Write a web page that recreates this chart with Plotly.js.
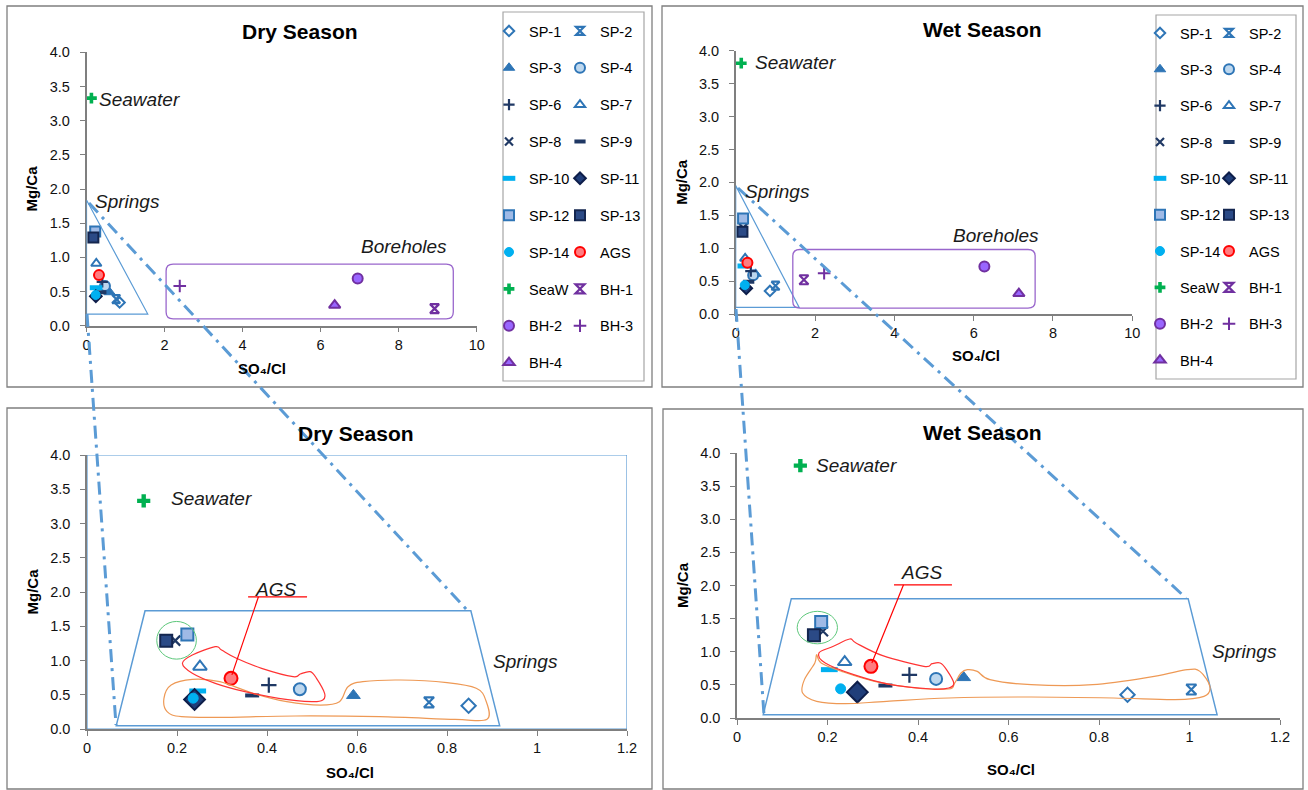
<!DOCTYPE html>
<html><head><meta charset="utf-8">
<script src="https://cdn.plot.ly/plotly-3.0.1.min.js"></script>
<style>html,body{margin:0;padding:0;background:#fff}</style>
</head><body><div id="chart" style="width:1308px;height:790px"></div>
<script>
// ---------------- DATA ----------------
const seriesNames = ['SP-1','SP-2','SP-3','SP-4','SP-6','SP-7','SP-8','SP-9','SP-10','SP-11','SP-12','SP-13','SP-14','AGS','SeaW','BH-1','BH-2','BH-3','BH-4'];
const drySO4Cl = [0.848,0.760,0.592,0.473,0.404,0.251,0.196,0.367,0.246,0.239,0.223,0.176,0.236,0.320,0.126,8.92,6.95,2.39,6.36];
const dryMgCa  = [0.34,0.39,0.49,0.58,0.64,0.91,1.29,0.49,0.555,0.43,1.38,1.29,0.45,0.74,3.33,0.25,0.69,0.58,0.30];
const wetSO4Cl = [0.863,1.004,0.501,0.440,0.381,0.238,0.190,0.328,0.204,0.266,0.186,0.170,0.229,0.296,0.140,1.72,6.27,2.23,7.14];
const wetMgCa  = [0.35,0.43,0.61,0.59,0.65,0.845,1.31,0.49,0.73,0.39,1.45,1.25,0.44,0.78,3.81,0.52,0.72,0.62,0.31];
const legendCol1 = ['SP-1','SP-3','SP-6','SP-8','SP-10','SP-12','SP-14','SeaW','BH-2','BH-4'];
const legendCol2 = ['SP-2','SP-4','SP-7','SP-9','SP-11','SP-13','AGS','BH-1','BH-3'];
const panelTitles = ['Dry Season','Wet Season','Dry Season','Wet Season'];
const xTitle = 'SO\u2084/Cl', yTitle = 'Mg/Ca';

// group outlines (data units of the zoomed panels)
const dryAgsX = [0.212,0.234,0.285,0.299,0.332,0.388,0.458,0.474,0.496,0.510,0.528,0.524,0.500,0.426,0.351,0.285,0.234];
const dryAgsY = [0.959,1.080,1.202,1.153,1.032,0.886,0.764,0.803,0.837,0.740,0.521,0.423,0.399,0.448,0.545,0.667,0.813];
const dryLowX = [0.171,0.187,0.234,0.295,0.369,0.444,0.519,0.561,0.580,0.613,0.697,0.800,0.865,0.886,0.889,0.818,0.650,0.463,0.295,0.210,0.178];
const dryLowY = [0.448,0.642,0.725,0.691,0.521,0.399,0.350,0.399,0.618,0.691,0.715,0.676,0.594,0.423,0.141,0.141,0.180,0.190,0.170,0.180,0.253];
const wetAgsX = [0.181,0.213,0.249,0.263,0.322,0.413,0.431,0.449,0.463,0.479,0.468,0.431,0.340,0.258,0.195];
const wetAgsY = [0.981,1.082,1.192,1.132,0.941,0.780,0.820,0.830,0.730,0.528,0.453,0.438,0.503,0.654,0.830];
const wetLowX = [0.176,0.186,0.231,0.304,0.395,0.468,0.481,0.495,0.509,0.531,0.559,0.650,0.786,0.922,0.995,1.023,1.045,1.032,0.968,0.832,0.650,0.468,0.331,0.240,0.176,0.145,0.149,0.172];
const wetLowY = [0.956,0.830,0.704,0.553,0.453,0.438,0.528,0.679,0.730,0.704,0.579,0.503,0.503,0.629,0.730,0.704,0.478,0.327,0.277,0.302,0.317,0.302,0.252,0.216,0.252,0.377,0.579,0.830];

// ---------------- STYLE ----------------
const W = 1308, H = 790;
const FONT = 'Liberation Sans, Arial, sans-serif';
const BLUE = '#2E75B6', NAVY = '#1F3864', PURPLE = '#7030A0', LINEBLUE = '#5B9BD5';
const styles = {
 'SP-1': {symbol:'diamond', size:11, color:'#ffffff', line:{color:BLUE, width:2}},
 'SP-2': {symbol:'hourglass-open', size:10, color:BLUE, line:{color:BLUE, width:2.2}},
 'SP-3': {symbol:'triangle-up', size:12, color:BLUE, line:{color:BLUE, width:1}},
 'SP-4': {symbol:'circle', size:12, color:'#BDD7EE', line:{color:BLUE, width:2}},
 'SP-6': {symbol:'cross-thin-open', size:11, color:NAVY, line:{color:NAVY, width:2.2}},
 'SP-7': {symbol:'triangle-up', size:12, color:'#ffffff', line:{color:BLUE, width:2}},
 'SP-8': {symbol:'x-thin-open', size:10, color:NAVY, line:{color:NAVY, width:2.2}},
 'SP-9': {symbol:'line-ew-open', size:10, color:NAVY, line:{color:NAVY, width:4}},
 'SP-10': {symbol:'line-ew-open', size:12, color:'#00B0F0', line:{color:'#00B0F0', width:5}},
 'SP-11': {symbol:'diamond', size:16, color:'#203E7A', line:{color:'#0E1E4A', width:2}},
 'SP-12': {symbol:'square', size:12, color:'#9FBAE6', line:{color:BLUE, width:2}},
 'SP-13': {symbol:'square', size:12, color:'#2B4A86', line:{color:'#14264F', width:2}},
 'SP-14': {symbol:'circle', size:10, color:'#00B0F0', line:{color:'#00B0F0', width:1}},
 'AGS': {symbol:'circle', size:13, color:'#FF7C80', line:{color:'#FF0000', width:2}},
 'SeaW': {symbol:'cross', size:11, color:'#00B050', line:{color:'#00B050', width:0}},
 'BH-1': {symbol:'hourglass-open', size:11, color:PURPLE, line:{color:PURPLE, width:2.2}},
 'BH-2': {symbol:'circle', size:13, color:'#9966FF', line:{color:PURPLE, width:2}},
 'BH-3': {symbol:'cross-thin-open', size:11, color:PURPLE, line:{color:PURPLE, width:2}},
 'BH-4': {symbol:'triangle-up', size:12, color:'#9966FF', line:{color:PURPLE, width:2}}
};
// overview (top) panels use smaller markers
const overviewSize = {'SP-1':8,'SP-2':8,'SP-3':10,'SP-4':10,'SP-6':8,'SP-7':9,'SP-8':8,'SP-9':8,'SP-10':9,'SP-11':9,'SP-12':10,'SP-13':10,'SP-14':9,'AGS':10,'SeaW':9,'BH-1':9,'BH-2':10,'BH-3':9,'BH-4':10};

const panels = [
 {xa:'x', ya:'y', xs:drySO4Cl, ys:dryMgCa, legends:['legend','legend2'], key:'dry'},
 {xa:'x2', ya:'y2', xs:wetSO4Cl, ys:wetMgCa, legends:['legend3','legend4'], key:'wet'},
 {xa:'x3', ya:'y3', xs:drySO4Cl, ys:dryMgCa, legends:null, key:'dry', zoom:true},
 {xa:'x4', ya:'y4', xs:wetSO4Cl, ys:wetMgCa, legends:null, key:'wet', zoom:true}
];

const traces = [];
panels.forEach(p => {
  seriesNames.forEach((nm, i) => {
    const st = styles[nm];
    const size = p.zoom ? st.size : overviewSize[nm];
    const t = {
      type:'scatter', mode:'markers', name:nm,
      x:[p.xs[i]], y:[p.ys[i]], xaxis:p.xa, yaxis:p.ya,
      marker:{symbol:st.symbol, size:size, color:st.color, line:st.line},
      legendgroup: p.key + nm, hoverinfo:'name+x+y'
    };
    if (p.legends) {
      t.showlegend = true;
      t.legend = legendCol1.includes(nm) ? p.legends[0] : p.legends[1];
    } else t.showlegend = false;
    traces.push(t);
  });
});

// ---------------- HELPERS ----------------
const px = v => v / W, py = v => 1 - v / H;
function smoothPath(xs, ys){
  const n = xs.length; let d = `M${xs[0]},${ys[0]}`;
  for (let i=0;i<n;i++){
    const a=(i-1+n)%n, b=i, c=(i+1)%n, e=(i+2)%n;
    const c1x=xs[b]+(xs[c]-xs[a])/6, c1y=ys[b]+(ys[c]-ys[a])/6;
    const c2x=xs[c]-(xs[e]-xs[b])/6, c2y=ys[c]-(ys[e]-ys[b])/6;
    d += ` C${c1x},${c1y} ${c2x},${c2y} ${xs[c]},${ys[c]}`;
  }
  return d + ' Z';
}
function roundRect(x0,x1,y0,y1,rx,ry){
  return `M${x0+rx},${y0} L${x1-rx},${y0} Q${x1},${y0} ${x1},${y0+ry} L${x1},${y1-ry} Q${x1},${y1} ${x1-rx},${y1} L${x0+rx},${y1} Q${x0},${y1} ${x0},${y1-ry} L${x0},${y0+ry} Q${x0},${y0} ${x0+rx},${y0} Z`;
}
function polyPath(pts){ return 'M' + pts.map(p=>p.join(',')).join(' L') + ' Z'; }

const shapes = [];
// panel frames
[[7,6,652,387],[662,6,1303,387],[7,408,652,789],[663,409,1303,789]].forEach(r=>{
  shapes.push({type:'rect', xref:'paper', yref:'paper', x0:px(r[0]), x1:px(r[2]), y0:py(r[3]), y1:py(r[1]), line:{color:'#7F7F7F', width:1.3}, layer:'below'});
});
// legend boxes
[[503,12,644,381],[1156,15,1296,379]].forEach(r=>{
  shapes.push({type:'rect', xref:'paper', yref:'paper', x0:px(r[0]), x1:px(r[2]), y0:py(r[3]), y1:py(r[1]), line:{color:'#A6A6A6', width:1.2}, layer:'below'});
});
// plot-area border (bottom-left)
shapes.push({type:'rect', xref:'x3', yref:'y3', x0:0, x1:1.2, y0:0, y1:4, line:{color:LINEBLUE, width:1.2}, layer:'below'});
// springs triangles
shapes.push({type:'path', xref:'x', yref:'y', path:polyPath([[0,1.84],[0,0.17],[1.57,0.17]]), line:{color:LINEBLUE, width:1.2}});
shapes.push({type:'path', xref:'x2', yref:'y2', path:polyPath([[0,1.95],[0,0.1],[1.6,0.1]]), line:{color:LINEBLUE, width:1.2}});
// boreholes boxes
shapes.push({type:'path', xref:'x', yref:'y', path:roundRect(2.04,9.4,0.1,0.9,0.18,0.1), line:{color:'#9966CC', width:1.3}});
shapes.push({type:'path', xref:'x2', yref:'y2', path:roundRect(1.44,7.55,0.09,0.98,0.18,0.1), line:{color:'#9966CC', width:1.3}});
// springs trapezoids
shapes.push({type:'path', xref:'x3', yref:'y3', path:polyPath([[0.129,1.727],[0.853,1.727],[0.917,0.049],[0.065,0.049]]), line:{color:LINEBLUE, width:1.5}});
shapes.push({type:'path', xref:'x4', yref:'y4', path:polyPath([[0.120,1.801],[0.997,1.801],[1.061,0.050],[0.058,0.050]]), line:{color:LINEBLUE, width:1.5}});
// green ellipses
shapes.push({type:'circle', xref:'x3', yref:'y3', x0:0.155, x1:0.243, y0:1.02, y1:1.57, line:{color:'#5CC77A', width:1}});
shapes.push({type:'circle', xref:'x4', yref:'y4', x0:0.133, x1:0.222, y0:1.12, y1:1.61, line:{color:'#5CC77A', width:1}});
// group outlines
shapes.push({type:'path', xref:'x3', yref:'y3', path:smoothPath(dryLowX, dryLowY), line:{color:'#EE9955', width:1.2}});
shapes.push({type:'path', xref:'x3', yref:'y3', path:smoothPath(dryAgsX, dryAgsY), line:{color:'#FF3333', width:1.2}});
shapes.push({type:'path', xref:'x4', yref:'y4', path:smoothPath(wetLowX, wetLowY), line:{color:'#EE9955', width:1.2}});
shapes.push({type:'path', xref:'x4', yref:'y4', path:smoothPath(wetAgsX, wetAgsY), line:{color:'#FF3333', width:1.2}});
// AGS callouts
shapes.push({type:'line', xref:'x3', yref:'y3', x0:0.358, x1:0.489, y0:1.93, y1:1.93, line:{color:'#FF0000', width:1.2}});
shapes.push({type:'line', xref:'x3', yref:'y3', x0:0.381, x1:0.322, y0:1.93, y1:0.79, line:{color:'#FF0000', width:1.2}});
shapes.push({type:'line', xref:'x4', yref:'y4', x0:0.347, x1:0.475, y0:2.01, y1:2.01, line:{color:'#FF0000', width:1.2}});
shapes.push({type:'line', xref:'x4', yref:'y4', x0:0.368, x1:0.298, y0:2.01, y1:0.83, line:{color:'#FF0000', width:1.2}});
// dash-dot zoom guide lines (figure coordinates)
[[87,314,116,725],[89,203,468,611],[736,309,764,715],[738,188,1186,598]].forEach(l=>{
  shapes.push({type:'line', xref:'paper', yref:'paper', x0:px(l[0]), y0:py(l[1]), x1:px(l[2]), y1:py(l[3]), line:{color:LINEBLUE, width:3, dash:'13px,6px,3px,6px'}, layer:'above'});
});

// ---------------- ANNOTATIONS ----------------
const ann = [];
const titlePos = [[300,32],[983,30],[356,433],[983,432]];
panelTitles.forEach((t,i)=>ann.push({text:'<b>'+t+'</b>', xref:'paper', yref:'paper', x:px(titlePos[i][0]), y:py(titlePos[i][1]), showarrow:false, xanchor:'center', yanchor:'middle', font:{family:FONT, size:21, color:'#000'}}));
const xTitlePos = [[262,368],[976,356],[350,772],[1011,769]];
xTitlePos.forEach(p=>ann.push({text:'<b>'+xTitle+'</b>', xref:'paper', yref:'paper', x:px(p[0]), y:py(p[1]), showarrow:false, xanchor:'center', yanchor:'middle', font:{family:FONT, size:15, color:'#000'}}));
const labels = [
 ['x','y','Seawater',0.28,3.31],['x','y','Springs',0.17,1.81],['x','y','Boreholes',6.99,1.16],
 ['x2','y2','Seawater',0.43,3.82],['x2','y2','Springs',0.19,1.86],['x2','y2','Boreholes',5.43,1.19],
 ['x3','y3','Seawater',0.182,3.36],['x3','y3','AGS',0.369,2.04],['x3','y3','Springs',0.898,0.98],
 ['x4','y4','Seawater',0.170,3.81],['x4','y4','AGS',0.357,2.20],['x4','y4','Springs',1.045,1.0]
];
labels.forEach(l=>ann.push({text:'<i>'+l[2]+'</i>', xref:l[0], yref:l[1], x:l[3], y:l[4], showarrow:false, xanchor:'left', yanchor:'middle', font:{family:FONT, size:19, color:'#1a1a1a'}}));

// ---------------- AXES ----------------
function xAx(dom, range, dtick, anchor){
  return {domain:[px(dom[0]), px(dom[1])], range:range, dtick:dtick, tick0:0, anchor:anchor, showgrid:false, zeroline:false,
    showline:true, linecolor:'#7F7F7F', linewidth:1.5, ticks:'outside', ticklen:5, tickcolor:'#7F7F7F',
    tickfont:{family:FONT, size:14.5, color:'#111'}, fixedrange:true};
}
function yAx(dom, anchor){
  return {domain:[py(dom[0]), py(dom[1])], range:[0,4], dtick:0.5, tick0:0, tickformat:'.1f', anchor:anchor, showgrid:false, zeroline:false,
    showline:true, linecolor:'#7F7F7F', linewidth:1.5, ticks:'outside', ticklen:5, tickcolor:'#7F7F7F', ticklabelstandoff:7,
    title:{text:'<b>'+yTitle+'</b>', font:{family:FONT, size:15, color:'#000'}, standoff:8},
    tickfont:{family:FONT, size:14.5, color:'#111'}, fixedrange:true, automargin:false};
}
function leg(x, y, gap){
  return {x:px(x), y:py(y), xanchor:'left', yanchor:'top', bgcolor:'rgba(0,0,0,0)', borderwidth:0,
    font:{family:FONT, size:14.5, color:'#000'}, tracegroupgap:gap, traceorder:'grouped', itemclick:false, itemdoubleclick:false};
}

const layout = {
  width:W, height:H, margin:{l:0,r:0,t:0,b:0}, paper_bgcolor:'#fff', plot_bgcolor:'rgba(0,0,0,0)',
  showlegend:true, font:{family:FONT},
  xaxis: xAx([86.5,476.7],[0,10],2,'y'),
  yaxis: yAx([325.7,52.3],'x'),
  xaxis2: xAx([735.7,1132.3],[0,10],2,'y2'),
  yaxis2: yAx([314,50.7],'x2'),
  xaxis3: xAx([87,627],[0,1.2],0.2,'y3'),
  yaxis3: yAx([729,455],'x3'),
  xaxis4: xAx([737,1280],[0,1.2],0.2,'y4'),
  yaxis4: yAx([718,453],'x4'),
  legend: leg(489,15,15), legend2: leg(560,15,15), legend3: leg(1140,17,14.5), legend4: leg(1209,17,14.5),
  shapes: shapes, annotations: ann
};
Plotly.newPlot('chart', traces, layout, {displayModeBar:false});
</script></body></html>
